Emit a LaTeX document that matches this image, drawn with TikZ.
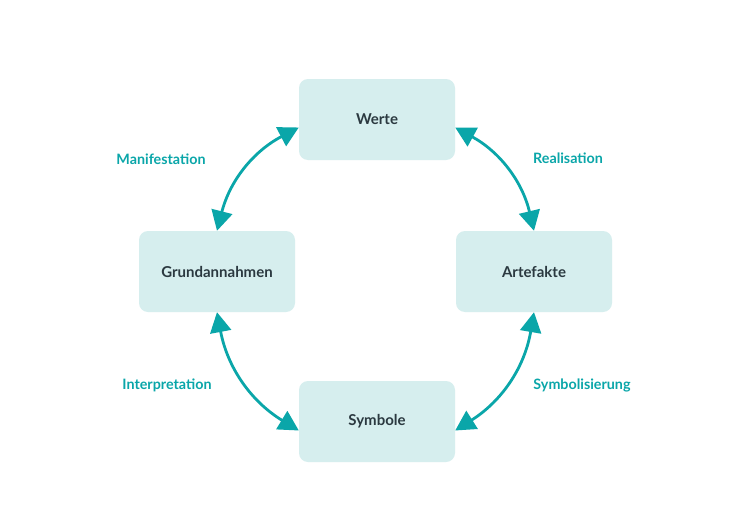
\documentclass[tikz,border=0pt]{standalone}
\usepackage{fontspec}
\setmainfont{Lato}
\usetikzlibrary{arrows.meta}
\definecolor{boxfill}{HTML}{D6EEEE}
\definecolor{teal}{HTML}{0AA6A9}
\definecolor{ink}{HTML}{2B3940}
\begin{document}
\begin{tikzpicture}[x=1pt,y=-1pt,
  box/.style={fill=boxfill,rounded corners=9pt,minimum width=156pt,minimum height=81pt,inner sep=0pt,text=ink,font=\fontsize{15}{18}\selectfont\bfseries},
  lbl/.style={text=teal,font=\fontsize{14.3}{17}\selectfont\bfseries,inner sep=0pt},
  conn/.style={draw=teal,line width=2.8pt,{Triangle[length=20pt,width=21pt]}-{Triangle[length=20pt,width=21pt]}}]
\useasboundingbox[fill=white] (0,0) rectangle (750,530);
\node[box] (W) at (377,119.5) {Werte};
\node[box] (G) at (217,271.5) {Grundannahmen};
\node[box] (A) at (534,271.5) {Artefakte};
\node[box] (S) at (377,421.5) {Symbole};
\node[lbl] (l1) at (161,159) {Manifestation};
\node[lbl] (l2) at (568,158) {Realisation};
\node[lbl] (l3) at (167,385) {Interpretation};
\node[lbl] (l4) at (582,385) {Symbolisierung};
\draw[conn] ([yshift=-8pt]W.west) to[bend right=24] (G.north);
\draw[conn] ([yshift=-8pt]W.east) to[bend left=24] (A.north);
\draw[conn] (A.south) to[bend left=24] ([yshift=-9pt]S.east);
\draw[conn] (G.south) to[bend right=24] ([yshift=-9pt]S.west);
\end{tikzpicture}
\end{document}
